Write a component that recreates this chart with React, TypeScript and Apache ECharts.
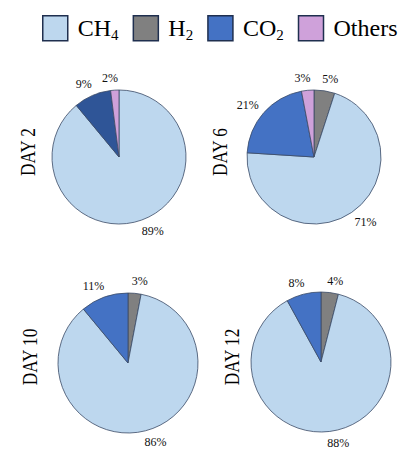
import React, { useEffect, useRef } from "react";
import * as echarts from "echarts";

const gases = ["CH4", "H2", "CO2", "Others"];
const gasLabels = ["{a|CH}{s|4}", "{a|H}{s|2}", "{a|CO}{s|2}", "{a|Others}"];
const days = ["DAY 2", "DAY 6", "DAY 10", "DAY 12"];
// clockwise order from 12 o'clock: H2, CH4, CO2, Others
const ch4 = [89, 71, 86, 88];
const h2 = [0, 5, 3, 4];
const co2 = [9, 21, 11, 8];
const others = [2, 3, 0, 0];

const gasColors: Record<string, string> = {
  CH4: "#BDD7EE",
  H2: "#808080",
  CO2: "#4472C4",
  Others: "#CFA1DA",
};

const FONT = "Liberation Serif";
const SQUARE = "path://M0,0L100,0L100,100L0,100Z";

const layouts = [
  { center: [119, 157], r: 67, title: [28, 152] },
  { center: [314, 157], r: 67, title: [220, 152] },
  { center: [128, 363], r: 70, title: [30, 357] },
  { center: [321, 362], r: 70, title: [232, 357] },
];

export default function App() {
  const ref = useRef<HTMLDivElement>(null);
  useEffect(() => {
    if (!ref.current) return;
    const chart = echarts.init(ref.current, undefined, { renderer: "svg" });

    const series = days.map((day, i) => {
      const order = [
        { name: "H2", value: h2[i] },
        { name: "CH4", value: ch4[i] },
        { name: "CO2", value: co2[i] },
        { name: "Others", value: others[i] },
      ].filter((d) => d.value > 0);
      const data = order.map((d) => {
        let color = gasColors[d.name];
        if (i === 0 && d.name === "CO2") color = "#2F5597";
        return { ...d, itemStyle: { color } };
      });
      return {
        type: "pie",
        name: day,
        center: layouts[i].center,
        radius: layouts[i].r,
        startAngle: 90,
        clockwise: true,
        avoidLabelOverlap: false,
        data,
        itemStyle: { borderColor: "#3A4A66", borderWidth: 0.8 },
        label: {
          show: true,
          position: "outside",
          formatter: "{c}%",
          fontFamily: FONT,
          fontSize: 12,
          fontWeight: "normal",
          color: "#111",
          distanceToLabelLine: 0,
        },
        labelLine: { show: false, length: 12, length2: -4 },
        emphasis: { disabled: true },
      };
    });

    const graphics = days.map((day, i) => ({
      type: "text",
      x: layouts[i].title[0],
      y: layouts[i].title[1],
      rotation: Math.PI / 2,
      scaleX: 0.82,
      style: {
        text: day,
        font: `21px ${FONT}`,
        fill: "#000",
        textAlign: "center",
        textVerticalAlign: "middle",
      },
    }));

    chart.setOption({
      animation: false,
      backgroundColor: "#fff",
      textStyle: { fontFamily: FONT },
      legend: {
        left: 37,
        top: 10,
        icon: SQUARE,
        itemWidth: 25,
        itemHeight: 25,
        itemGap: 14,
        selectedMode: false,
        itemStyle: { borderColor: "#1F2F4F", borderWidth: 1.5, borderJoin: "miter" },
        data: gases.map((g) => ({
          name: g,
          icon: SQUARE,
          itemStyle: { color: gasColors[g] },
        })),
        formatter: (name: string) => gasLabels[gases.indexOf(name)],
        textStyle: {
          fontFamily: FONT,
          color: "#000",
          rich: {
            a: { fontFamily: FONT, fontSize: 24, lineHeight: 28, color: "#000", padding: [0, 0, 0, 5] },
            s: { fontFamily: FONT, fontSize: 15, lineHeight: 15, color: "#000", verticalAlign: "bottom" },
          },
        },
      },
      graphic: graphics,
      series,
    });
    return () => chart.dispose();
  }, []);
  return (
    <div
      ref={ref}
      style={{ position: "absolute", left: 0, top: 0, width: 414, height: 451 }}
    />
  );
}
